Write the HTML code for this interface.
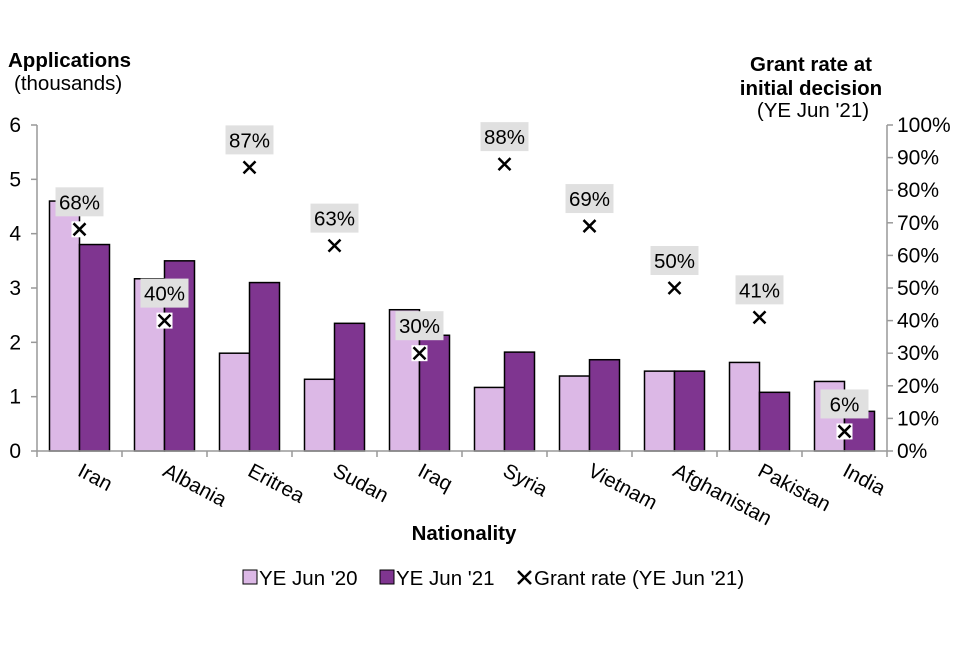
<!DOCTYPE html>
<html><head><meta charset="utf-8"><style>
body{margin:0;background:#fff;}
text{font-family:"Liberation Sans",Arial,sans-serif;fill:#000;}
</style></head><body>
<svg id="chart" width="960" height="640" xmlns="http://www.w3.org/2000/svg"></svg>
<script>
const categories=["Iran","Albania","Eritrea","Sudan","Iraq","Syria","Vietnam","Afghanistan","Pakistan","India"];
const ye20=[4.6,3.17,1.8,1.32,2.6,1.17,1.38,1.47,1.63,1.28];
const ye21=[3.8,3.5,3.1,2.35,2.13,1.82,1.68,1.47,1.08,0.73];
const grantRate=[68,40,87,63,30,88,69,50,41,6];
const leftTicks=[0,1,2,3,4,5,6];
const rightTicks=[0,10,20,30,40,50,60,70,80,90,100];
const svg=document.getElementById('chart');
const NS='http://www.w3.org/2000/svg';
const X0=37,X1=887,Y0=451,Y1=125;
const gw=(X1-X0)/categories.length;
const yL=v=>Y0-(v/6)*(Y0-Y1);
const yR=v=>Y0-(v/100)*(Y0-Y1);
const xc=i=>X0+(i+0.5)*gw;
function el(t,a,txt){const e=document.createElementNS(NS,t);for(const k in a)e.setAttribute(k,a[k]);if(txt!==undefined)e.textContent=txt;svg.appendChild(e);return e;}
categories.forEach((c,i)=>{
 let b=el('rect',{x:xc(i)-30,y:yL(ye20[i]),width:30,height:Y0-yL(ye20[i]),fill:'#dcb8e6',stroke:'#000','stroke-width':1.5});
 
 
 let d=el('rect',{x:xc(i),y:yL(ye21[i]),width:30,height:Y0-yL(ye21[i]),fill:'#7f3590',stroke:'#000','stroke-width':1.5});
 
 
});
let la=el('line',{x1:X0,y1:Y1,x2:X0,y2:Y0,stroke:'#999','stroke-width':1.5});


let ra=el('line',{x1:X1,y1:Y1,x2:X1,y2:Y0,stroke:'#999','stroke-width':1.5});


let xa=el('line',{x1:X0,y1:Y0,x2:X1,y2:Y0,stroke:'#999','stroke-width':1.5});


leftTicks.forEach(v=>{
 el('line',{x1:X0-6,y1:yL(v),x2:X0,y2:yL(v),stroke:'#999','stroke-width':1.5});
 let t=el('text',{x:21,y:yL(v)+7,'font-size':21,'text-anchor':'end'},v);
 
 
});
rightTicks.forEach(v=>{
 el('line',{x1:X1,y1:yR(v),x2:X1+6,y2:yR(v),stroke:'#999','stroke-width':1.5});
 let t=el('text',{x:897,y:yR(v)+7,'font-size':21},v+'%');
 
 
});
for(let i=0;i<=categories.length;i++){el('line',{x1:X0+i*gw,y1:Y0,x2:X0+i*gw,y2:Y0+6,stroke:'#999','stroke-width':1.5});}
categories.forEach((c,i)=>{
 let t=el('text',{x:0,y:0,'font-size':20.5,transform:`translate(${xc(i)-3},${Y0+24}) rotate(28)`},c);
 
 
});
categories.forEach((c,i)=>{
 const x=xc(i),y=yR(grantRate[i]);
 let g=el('rect',{x:x-24,y:y-42,width:48,height:29,fill:'#e0e0e0'});
 
 
 let t=el('text',{x:x,y:y-20,'font-size':20.5,'text-anchor':'middle'},grantRate[i]+'%');
 
 
 el('rect',{x:x-8,y:y-8,width:16,height:16,fill:'#fff'});
 let m=el('path',{d:`M${x-6},${y-6}L${x+6},${y+6}M${x+6},${y-6}L${x-6},${y+6}`,stroke:'#000','stroke-width':2.5});
 
 
});
</script>
<svg style="position:absolute;left:0;top:0" width="960" height="640" xmlns="http://www.w3.org/2000/svg">
<g font-size="20.5">
<text x="8" y="67" font-weight="bold">Applications</text>
<text x="14" y="90">(thousands)</text></g>
<g font-size="20.5" text-anchor="middle">
<text x="811" y="71" font-weight="bold">Grant rate at</text>
<text x="811" y="95" font-weight="bold">initial decision</text>
<text x="813" y="117">(YE Jun '21)</text></g>
<text x="464" y="540" font-size="20.5" font-weight="bold" text-anchor="middle">Nationality</text>
<g font-size="20.5">
<rect x="243" y="570" width="14" height="14" fill="#dcb8e6" stroke="#000"/>
<text x="259" y="585">YE Jun '20</text>
<rect x="380" y="570" width="14" height="14" fill="#7f3590" stroke="#000"/>
<text x="396" y="585">YE Jun '21</text>
<path d="M518,571L531,584M531,571L518,584" stroke="#000" stroke-width="2.5"/>
<text x="534" y="585">Grant rate (YE Jun '21)</text></g>
</svg>
</body></html>
